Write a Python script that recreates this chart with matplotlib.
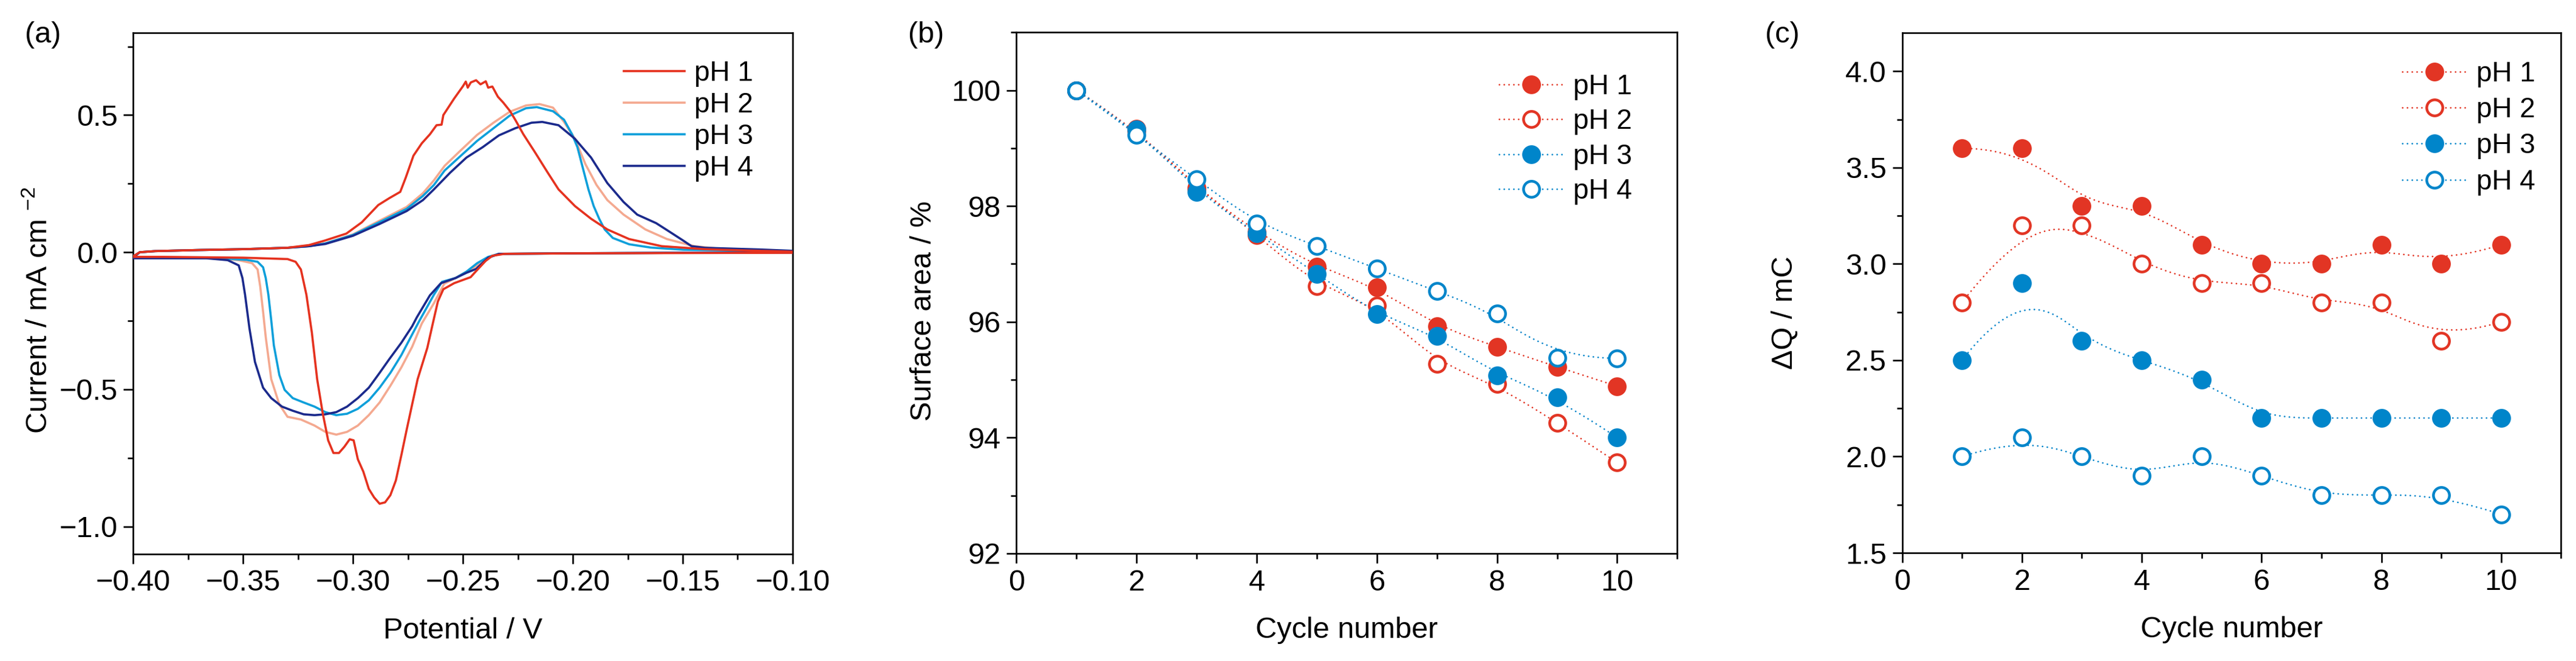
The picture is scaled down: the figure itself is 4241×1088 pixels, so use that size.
import numpy as np
import matplotlib
matplotlib.use('Agg')
import matplotlib.pyplot as plt
import matplotlib.ticker as ticker
from matplotlib.lines import Line2D

plt.rcParams['font.family'] = ['Liberation Sans', 'DejaVu Sans']
plt.rcParams['mathtext.fontset'] = 'custom'
plt.rcParams['mathtext.rm'] = 'Liberation Sans'
plt.rcParams['mathtext.it'] = 'Liberation Sans:italic'

# ---------------- data ----------------
labels = ['pH 1', 'pH 2', 'pH 3', 'pH 4']

# (a) cyclic voltammograms, anodic (upper) and cathodic (lower) branches
ph1_up_v = [-0.400, -0.397, -0.390, -0.370, -0.350, -0.330, -0.320, -0.313, -0.303, -0.296, -0.2885, -0.2835,
            -0.2785, -0.276, -0.2725, -0.2687, -0.265, -0.262, -0.2597, -0.2589, -0.254, -0.250, -0.2487, -0.2478,
            -0.2464, -0.244, -0.242, -0.2396, -0.2385, -0.2366, -0.2341, -0.2316, -0.2286, -0.2262, -0.2225,
            -0.2175, -0.2114, -0.2065, -0.199, -0.1917, -0.1843, -0.1744, -0.1596, -0.140, -0.120, -0.100]
ph1_up_i = [-0.015, 0.000, 0.004, 0.008, 0.011, 0.016, 0.026, 0.042, 0.068, 0.109, 0.172, 0.197,
            0.220, 0.272, 0.352, 0.397, 0.430, 0.463, 0.465, 0.500, 0.560, 0.605, 0.622, 0.600,
            0.619, 0.627, 0.612, 0.623, 0.600, 0.604, 0.567, 0.545, 0.515, 0.483, 0.430,
            0.368, 0.290, 0.229, 0.168, 0.122, 0.083, 0.048, 0.022, 0.011, 0.006, 0.002]
ph1_dn_v = [-0.100, -0.150, -0.200, -0.2311, -0.2366, -0.2397, -0.2440, -0.2465, -0.2540, -0.2589, -0.2614,
            -0.2637, -0.2662, -0.2706, -0.2731, -0.2756, -0.2780, -0.2805, -0.2830, -0.2854, -0.2879, -0.2904,
            -0.2928, -0.2953, -0.2978, -0.2997, -0.3015, -0.3039, -0.3064, -0.3089, -0.3113, -0.3138, -0.3163,
            -0.3187, -0.3212, -0.3237, -0.3261, -0.3298, -0.350, -0.3866, -0.400]
ph1_dn_i = [-0.002, -0.003, -0.004, -0.006, -0.013, -0.032, -0.069, -0.091, -0.113, -0.135, -0.180,
            -0.260, -0.349, -0.463, -0.555, -0.648, -0.740, -0.832, -0.886, -0.912, -0.917, -0.894,
            -0.863, -0.800, -0.755, -0.686, -0.682, -0.709, -0.732, -0.732, -0.686, -0.586, -0.463,
            -0.294, -0.155, -0.063, -0.035, -0.025, -0.020, -0.017, -0.017]

ph2_up_v = [-0.400, -0.397, -0.390, -0.370, -0.350, -0.330, -0.320, -0.3126, -0.300, -0.2879, -0.2756, -0.2682,
            -0.2632, -0.2583, -0.2509, -0.2435, -0.2361, -0.2287, -0.2213, -0.2151, -0.2090, -0.2040, -0.1991,
            -0.1942, -0.1892, -0.1843, -0.1769, -0.1670, -0.1572, -0.1448, -0.1275, -0.100]
ph2_up_i = [-0.015, 0.000, 0.004, 0.008, 0.011, 0.016, 0.022, 0.032, 0.065, 0.115, 0.165, 0.215,
            0.262, 0.315, 0.372, 0.428, 0.472, 0.512, 0.535, 0.540, 0.527, 0.475, 0.414,
            0.320, 0.245, 0.190, 0.137, 0.083, 0.048, 0.022, 0.008, 0.003]
ph2_dn_v = [-0.100, -0.150, -0.200, -0.2336, -0.2385, -0.2435, -0.2484, -0.2533, -0.2585, -0.2632, -0.2687,
            -0.2731, -0.2780, -0.2830, -0.2879, -0.2928, -0.2978, -0.3027, -0.3076, -0.3126, -0.3175, -0.3237,
            -0.3298, -0.3335, -0.3372, -0.3397, -0.3409, -0.3422, -0.3434, -0.3459, -0.3520, -0.3619, -0.3866,
            -0.400]
ph2_dn_i = [-0.001, -0.002, -0.004, -0.006, -0.020, -0.048, -0.071, -0.094, -0.115, -0.186, -0.260,
            -0.345, -0.420, -0.487, -0.548, -0.594, -0.632, -0.655, -0.665, -0.655, -0.632, -0.610,
            -0.600, -0.555, -0.463, -0.309, -0.217, -0.125, -0.063, -0.040, -0.029, -0.022, -0.019,
            -0.019]

ph3_up_v = [-0.400, -0.397, -0.390, -0.370, -0.350, -0.330, -0.320, -0.3126, -0.300, -0.2879, -0.2756, -0.2682,
            -0.2632, -0.2583, -0.2509, -0.2435, -0.2361, -0.2287, -0.2213, -0.2164, -0.2090, -0.2040, -0.2003,
            -0.1979, -0.1954, -0.1929, -0.1905, -0.1880, -0.1855, -0.1818, -0.1744, -0.1646, -0.1497, -0.100]
ph3_up_i = [-0.015, 0.000, 0.004, 0.008, 0.011, 0.016, 0.022, 0.032, 0.063, 0.110, 0.158, 0.205,
            0.245, 0.298, 0.352, 0.406, 0.452, 0.498, 0.525, 0.529, 0.514, 0.483, 0.429,
            0.383, 0.306, 0.229, 0.168, 0.122, 0.083, 0.052, 0.029, 0.017, 0.009, 0.003]
ph3_dn_v = [-0.100, -0.150, -0.200, -0.2336, -0.2385, -0.2435, -0.2484, -0.2533, -0.2595, -0.2632, -0.2700,
            -0.2731, -0.2780, -0.2830, -0.2879, -0.2928, -0.2978, -0.3027, -0.3076, -0.3126, -0.3175, -0.3224,
            -0.3274, -0.3311, -0.3335, -0.3360, -0.3372, -0.3385, -0.3397, -0.3409, -0.3434, -0.3483, -0.3619,
            -0.400]
ph3_dn_i = [-0.001, -0.002, -0.004, -0.006, -0.017, -0.040, -0.071, -0.094, -0.108, -0.155, -0.253,
            -0.300, -0.375, -0.440, -0.494, -0.540, -0.571, -0.589, -0.594, -0.583, -0.563, -0.548,
            -0.532, -0.502, -0.448, -0.340, -0.248, -0.155, -0.094, -0.055, -0.035, -0.028, -0.022,
            -0.019]

ph4_up_v = [-0.400, -0.397, -0.390, -0.370, -0.350, -0.330, -0.320, -0.3126, -0.300, -0.2879, -0.2756, -0.2682,
            -0.2632, -0.2558, -0.2484, -0.2410, -0.2336, -0.2262, -0.2188, -0.2139, -0.2065, -0.1991, -0.1917,
            -0.1843, -0.1769, -0.1707, -0.1621, -0.1547, -0.1497, -0.1460, -0.1399, -0.1152, -0.100]
ph4_up_i = [-0.020, 0.000, 0.004, 0.008, 0.011, 0.016, 0.022, 0.030, 0.060, 0.103, 0.150, 0.190,
            0.229, 0.290, 0.345, 0.383, 0.426, 0.452, 0.472, 0.475, 0.463, 0.414, 0.345,
            0.252, 0.183, 0.137, 0.106, 0.068, 0.042, 0.022, 0.016, 0.010, 0.005]
ph4_dn_v = [-0.100, -0.150, -0.200, -0.2336, -0.2385, -0.2440, -0.2484, -0.2533, -0.2600, -0.2650, -0.2710,
            -0.2731, -0.2780, -0.2835, -0.2879, -0.2928, -0.2978, -0.3027, -0.3076, -0.3126, -0.3175, -0.3224,
            -0.3274, -0.3323, -0.3372, -0.3409, -0.3446, -0.3471, -0.3491, -0.3503, -0.3520, -0.3570, -0.3668,
            -0.400]
ph4_dn_i = [-0.001, -0.002, -0.004, -0.006, -0.020, -0.061, -0.075, -0.094, -0.113, -0.157, -0.238,
            -0.270, -0.330, -0.390, -0.440, -0.494, -0.532, -0.563, -0.583, -0.591, -0.594, -0.591,
            -0.578, -0.563, -0.532, -0.494, -0.400, -0.278, -0.155, -0.094, -0.048, -0.029, -0.022,
            -0.022]

# (b) surface area vs cycle
cycles = [1, 2, 3, 4, 5, 6, 7, 8, 9, 10]
area_ph1 = [100.0, 99.34, 98.30, 97.55, 96.95, 96.60, 95.92, 95.57, 95.22, 94.89]
area_ph2 = [100.0, 99.30, 98.32, 97.50, 96.62, 96.28, 95.27, 94.93, 94.26, 93.57]
area_ph3 = [100.0, 99.32, 98.24, 97.53, 96.83, 96.13, 95.76, 95.07, 94.70, 94.00]
area_ph4 = [100.0, 99.23, 98.46, 97.70, 97.31, 96.92, 96.53, 96.14, 95.38, 95.37]

# (c) delta Q vs cycle
dq_ph1 = [3.6, 3.6, 3.3, 3.3, 3.1, 3.0, 3.0, 3.1, 3.0, 3.1]
dq_ph2 = [2.8, 3.2, 3.2, 3.0, 2.9, 2.9, 2.8, 2.8, 2.6, 2.7]
dq_ph3 = [2.5, 2.9, 2.6, 2.5, 2.4, 2.2, 2.2, 2.2, 2.2, 2.2]
dq_ph4 = [2.0, 2.1, 2.0, 1.9, 2.0, 1.9, 1.8, 1.8, 1.8, 1.7]

# ---------------- styles ----------------
cv_colors = ['#E5321F', '#F4A990', '#0E9FDA', '#1B2A8C']
red = '#E23524'
blue = '#0085CA'
FS = 35
LFS = 33
DOT = (0, (0.1, 2.9))


def bspline(x, y, n=300):
    # clamped cubic B-spline with the data points as control points (Origin "B-Spline")
    P = np.column_stack([x, y]).astype(float)
    m = len(P)
    k = 3
    knots = np.concatenate([np.zeros(k), np.arange(m - k + 1), np.full(k, m - k)]).astype(float)
    u = np.linspace(0, m - k, n)
    u[-1] -= 1e-9

    def N(i, p):
        if p == 0:
            return ((knots[i] <= u) & (u < knots[i + 1])).astype(float)
        out = np.zeros_like(u)
        d1 = knots[i + p] - knots[i]
        if d1 > 0:
            out += (u - knots[i]) / d1 * N(i, p - 1)
        d2 = knots[i + p + 1] - knots[i + 1]
        if d2 > 0:
            out += (knots[i + p + 1] - u) / d2 * N(i + 1, p - 1)
        return out

    B = np.array([N(i, k) for i in range(m)])
    curve = B.T @ P
    return curve[:, 0], curve[:, 1]


def fmt(decimals):
    # tick labels with a real minus sign
    return ticker.FuncFormatter(lambda v, pos: ('%.*f' % (decimals, v)).replace('-', '\u2212')
                                if abs(v) > 1e-9 else '%.*f' % (decimals, 0.0))


def style_axes(ax):
    for s in ax.spines.values():
        s.set_linewidth(1.9)
    ax.tick_params(which='major', direction='out', length=11.5, width=1.9, labelsize=FS, pad=7,
                   top=False, right=False)
    ax.tick_params(which='minor', direction='out', length=6.7, width=1.9, top=False, right=False)


fig = plt.figure(figsize=(42.41, 10.88), dpi=100)

# ---------------- (a) ----------------
ax1 = fig.add_axes([0.0517, 0.1620, 0.2560, 0.7884])
cv = [(ph1_up_v, ph1_up_i, ph1_dn_v, ph1_dn_i),
      (ph2_up_v, ph2_up_i, ph2_dn_v, ph2_dn_i),
      (ph3_up_v, ph3_up_i, ph3_dn_v, ph3_dn_i),
      (ph4_up_v, ph4_up_i, ph4_dn_v, ph4_dn_i)]
handles = [None] * 4
for idx in [1, 2, 3, 0]:
    uv, ui, dv, di = cv[idx]
    h, = ax1.plot(uv + dv, ui + di, color=cv_colors[idx], lw=2.6, label=labels[idx],
                  solid_joinstyle='round', zorder=3 + (idx == 0))
    handles[idx] = h
ax1.set_xlim(-0.40, -0.10)
ax1.set_ylim(-1.1, 0.8)
ax1.xaxis.set_major_locator(ticker.MultipleLocator(0.05))
ax1.xaxis.set_minor_locator(ticker.MultipleLocator(0.025))
ax1.yaxis.set_major_locator(ticker.FixedLocator([-1.0, -0.5, 0.0, 0.5]))
ax1.yaxis.set_minor_locator(ticker.MultipleLocator(0.25))
ax1.xaxis.set_major_formatter(fmt(2))
ax1.yaxis.set_major_formatter(fmt(1))
style_axes(ax1)
ax1.set_xlabel('Potential / V', fontsize=FS)
ax1.set_ylabel('Current / mA cm $^{\\mathregular{\u22122}}$', fontsize=FS)
ax1.xaxis.set_label_coords(0.5, -0.148)
ax1.xaxis.label.set_va('center')
ax1.yaxis.set_label_coords(-0.143, 0.468)
ax1.yaxis.label.set_va('center')
ax1.legend(handles=handles, loc='upper left', bbox_to_anchor=(0.744, 0.947), frameon=False,
           fontsize=LFS, handlelength=2.18, handletextpad=0.35, labelspacing=0.175, borderpad=0,
           borderaxespad=0)

# ---------------- (b) and (c) ----------------
series_b = [area_ph1, area_ph2, area_ph3, area_ph4]
series_c = [dq_ph1, dq_ph2, dq_ph3, dq_ph4]
colors_bc = [red, red, blue, blue]
filled = [True, False, True, False]

ax2 = fig.add_axes([0.3946, 0.1627, 0.2565, 0.7883])
ax3 = fig.add_axes([0.7384, 0.1636, 0.2558, 0.7868])
for ax, series in [(ax2, series_b), (ax3, series_c)]:
    hs = []
    for j in range(4):
        sx, sy = bspline(cycles, series[j])
        ax.plot(sx, sy, color=colors_bc[j], lw=1.9, linestyle=DOT,
                dash_capstyle='round', zorder=2 + j)
        ax.plot(cycles, series[j], linestyle='none', marker='o', ms=19, mew=3.2,
                mec=colors_bc[j], mfc=colors_bc[j] if filled[j] else 'white', zorder=10 + j)
        # legend proxy
        hs.append(Line2D([], [], color=colors_bc[j], lw=1.9, linestyle=DOT,
                         dash_capstyle='round', marker='o', ms=19, mew=3.2,
                         mec=colors_bc[j], mfc=colors_bc[j] if filled[j] else 'white',
                         label=labels[j]))
    ax.set_xlim(0, 11)
    ax.xaxis.set_major_locator(ticker.MultipleLocator(2))
    ax.xaxis.set_minor_locator(ticker.MultipleLocator(1))
    style_axes(ax)
    ax.set_xlabel('Cycle number', fontsize=FS)
    ax.xaxis.set_label_coords(0.5, -0.148)
    ax.xaxis.label.set_va('center')
    if ax is ax2:
        anchor, spacing = (0.730, 0.921), 0.29
    else:
        anchor, spacing = (0.759, 0.946), 0.33
    ax.legend(handles=hs, loc='upper left', bbox_to_anchor=anchor, frameon=False,
              fontsize=LFS, handlelength=2.31, handletextpad=0.35, labelspacing=spacing, borderpad=0,
              borderaxespad=0)

ax2.set_ylim(92, 101)
ax2.yaxis.set_major_locator(ticker.MultipleLocator(2))
ax2.yaxis.set_minor_locator(ticker.MultipleLocator(1))
ax2.set_ylabel('Surface area / %', fontsize=FS)
ax2.yaxis.set_label_coords(-0.141, 0.465)
ax2.yaxis.label.set_va('center')

ax3.set_ylim(1.5, 4.2)
ax3.yaxis.set_major_locator(ticker.MultipleLocator(0.5))
ax3.yaxis.set_minor_locator(ticker.MultipleLocator(0.25))
ax3.yaxis.set_major_formatter(fmt(1))
ax3.set_ylabel('\u0394Q / mC', fontsize=FS)
ax3.yaxis.set_label_coords(-0.178, 0.462)
ax3.yaxis.label.set_va('center')

# panel letters
fig.text(71 / 4241, 1 - 57 / 1088, '(a)', fontsize=FS, ha='center', va='center')
fig.text(1525 / 4241, 1 - 57 / 1088, '(b)', fontsize=FS, ha='center', va='center')
fig.text(2934 / 4241, 1 - 57 / 1088, '(c)', fontsize=FS, ha='center', va='center')

fig.savefig('out.png', dpi=100)
